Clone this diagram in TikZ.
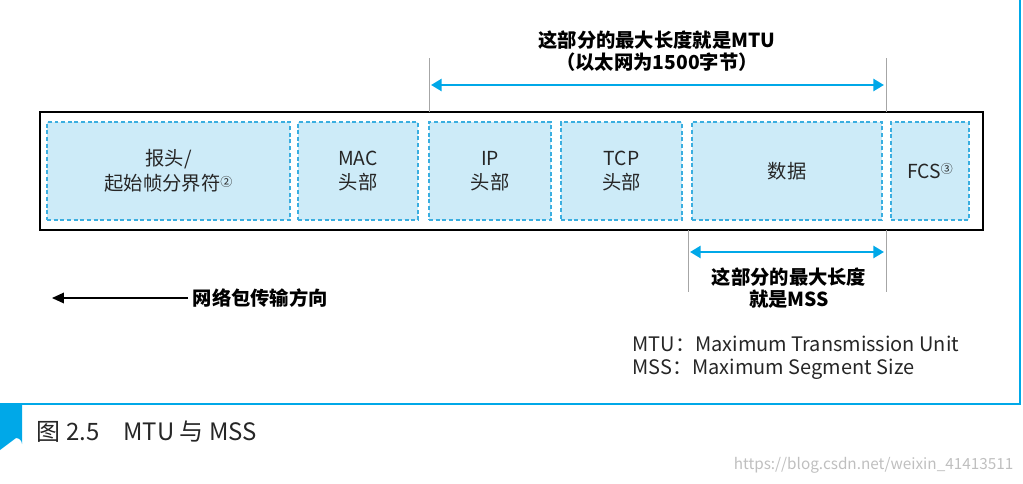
\documentclass[tikz,border=0pt]{standalone}
\usepackage{fontspec}
\setmainfont{Noto Sans CJK SC}
\usetikzlibrary{arrows.meta}
\definecolor{cy}{HTML}{00A8E8}
\definecolor{fillb}{HTML}{CDEBF8}
\definecolor{dash}{HTML}{3AAEE0}
\begin{document}
\begin{tikzpicture}[x=0.0264cm,y=-0.0264cm,
  fld/.style={draw=dash,fill=fillb,line width=0.8pt,dash pattern=on 3pt off 2pt,minimum height=98*0.0264cm,inner sep=0},
  lbl/.style={font=\fontsize{14.5}{18.5}\selectfont,align=center,text=black!85},
  gl/.style={draw=black!35,line width=0.6pt},
  barr/.style={draw=cy,line width=2pt,{Triangle[length=8pt,width=9pt]}-{Triangle[length=8pt,width=9pt]}},
  bold/.style={font=\fontsize{14.5}{17}\selectfont\bfseries,align=center}]
\useasboundingbox (0,0) rectangle (1023,483);
% frame
\draw[cy,line width=2pt] (0,404) -- (1020,404) -- (1020,0);
\fill[cy] (0,404) -- (22,404) -- (22,444) arc (0:-90:6) -- (0,450) -- cycle;
% main rect
\draw[black,line width=0.8pt] (40,112) rectangle (983,230);
\node[fld,minimum width=243*0.0264cm] (f1) at (168.5,171) {};
\node[fld,minimum width=120*0.0264cm] (f2) at (358,171) {};
\node[fld,minimum width=122*0.0264cm] (f3) at (490,171) {};
\node[fld,minimum width=121*0.0264cm] (f4) at (621.5,171) {};
\node[fld,minimum width=190*0.0264cm] (f5) at (787,171) {};
\node[fld,minimum width=78*0.0264cm] (f6) at (930,171) {};
\node[lbl] (t1) at (f1) {报头/\\起始帧分界符\raisebox{0.4ex}{\fontsize{9}{10}\selectfont ②}};
\node[lbl] (t2) at (f2) {MAC\\头部};
\node[lbl] (t3) at (f3) {IP\\头部};
\node[lbl] (t4) at (f4) {TCP\\头部};
\node[lbl] (t5) at (f5) {数据};
\node[lbl] (t6) at (f6) {FCS\raisebox{0.4ex}{\fontsize{9}{10}\selectfont ③}};
% guide lines
\coordinate (g1a) at (429,58); \coordinate (g1b) at (429,112);
\coordinate (g2a) at (886,58); \coordinate (g2b) at (886,112);
\coordinate (g3a) at (688,230); \coordinate (g3b) at (688,292);
\coordinate (g4a) at (886,230); \coordinate (g4b) at (886,292);
\draw[gl] (g1a) -- (g1b); \draw[gl] (g2a) -- (g2b);
\draw[gl] (g3a) -- (g3b); \draw[gl] (g4a) -- (g4b);
% arrows
\coordinate (a1) at (431,85); \coordinate (a2) at (884,85);
\draw[barr] (a1) -- (a2);
\coordinate (b1) at (690,252); \coordinate (b2) at (884,252);
\draw[barr] (b1) -- (b2);
\node[bold] (mtu) at (657,51) {这部分的最大长度就是MTU\\（以太网为1500字节）};
\node[bold] (mss) at (789,288) {这部分的最大长度\\就是MSS};
% direction
\node[bold,anchor=west] (dir) at (188,298) {网络包传输方向};
\coordinate (d0) at (52,298);
\draw[black,line width=1pt,-{Triangle[length=9pt,width=8pt]}] (dir.west) -- (d0);
% legend
\node[anchor=west,font=\fontsize{15}{18}\selectfont,text=black!85] (l1) at (628,344) {MTU：Maximum Transmission Unit};
\node[anchor=west,font=\fontsize{15}{18}\selectfont,text=black!85] (l2) at (628,369) {MSS：Maximum Segment Size};
% caption
\node[anchor=west,font=\fontsize{18}{21}\selectfont,text=black!85] (cap) at (32,432) {图 2.5\quad MTU 与 MSS};
\node[anchor=east,font=\fontsize{11.5}{13}\selectfont,text=black!25] (wm) at (1018,465) {https://blog.csdn.net/weixin\_41413511};
\end{tikzpicture}
\end{document}
